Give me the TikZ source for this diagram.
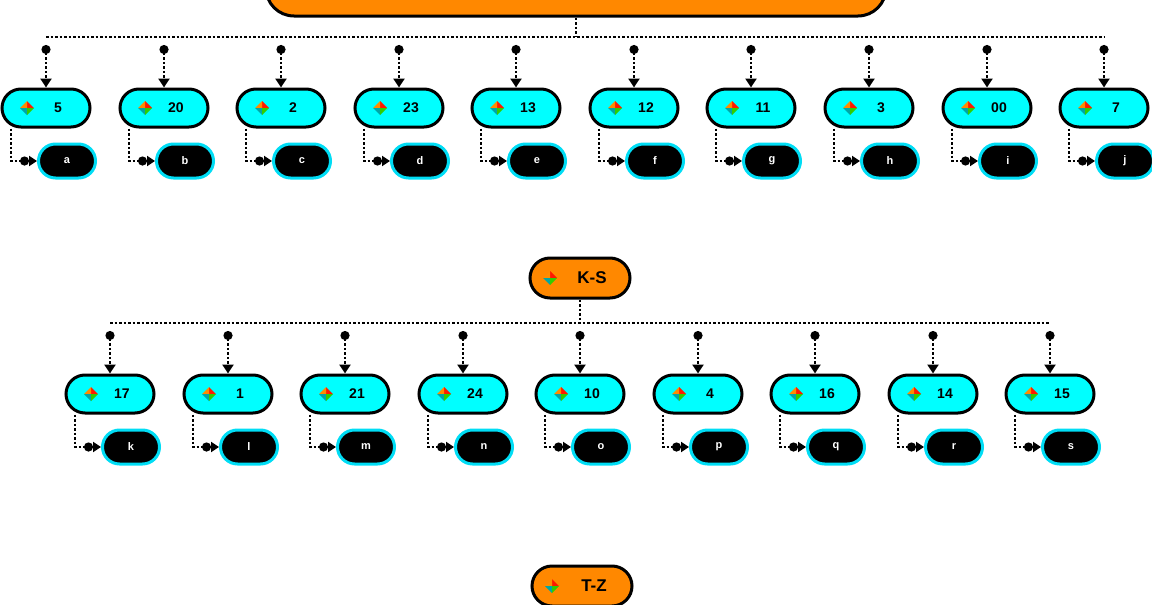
\documentclass[tikz,border=0pt]{standalone}
\usepackage{fontspec}
\setmainfont{Liberation Sans}
\usetikzlibrary{shapes.misc,arrows.meta}
\definecolor{orng}{HTML}{FF8800}
\definecolor{cyn}{HTML}{00FFFF}
\definecolor{cynb}{HTML}{00DDF5}
\tikzset{
 parentbox/.style={rounded rectangle,draw=black,line width=3pt,fill=orng,minimum height=40pt,font=\bfseries\fontsize{17}{17}\selectfont,inner sep=0pt},
 childbox/.style={rounded rectangle,draw=black,line width=3pt,fill=cyn,minimum width=88pt,minimum height=38pt,font=\bfseries\fontsize{14}{14}\selectfont,inner sep=0pt},
 leafbox/.style={rounded rectangle,draw=cynb,line width=3pt,fill=black,text=white,minimum width=57pt,minimum height=34pt,font=\bfseries\fontsize{11}{11}\selectfont,inner sep=0pt},
 bus/.style={line width=2.5pt,dotted},
 branch/.style={line width=2.5pt,dotted,{Circle[length=9pt,width=9pt]}-{Triangle[length=9pt,width=11pt]}},
 leafline/.style={line width=2.5pt,dotted,-{Circle[length=9pt,width=9pt]Triangle[length=8pt,width=10pt]}},
}
\newcommand{\puzz}[1]{%
 \begin{scope}[shift={#1}]
 \fill[red!80!orange] (0,-7)--(7,0)--(0,0)--cycle;
 \fill[orange!90!yellow] (0,-7)--(-7,0)--(0,0)--cycle;
 \fill[teal!70!cyan] (-7,0)--(0,7)--(0,0)--cycle;
 \fill[green!60!olive] (7,0)--(0,7)--(0,0)--cycle;
 \end{scope}}
\begin{document}
\begin{tikzpicture}[x=1pt,y=-1pt]
\useasboundingbox (0,0) rectangle (1152,605);
% top parent (cut off)
\node[parentbox,minimum width=620pt,minimum height=56pt] (p1) at (576,-12) {};
\draw[bus] (p1.south) -- (576,37) coordinate (b1);
\draw[bus] (46,37) coordinate (b1l) -- (1104,37) coordinate (b1r);
\foreach \x/\n/\l [count=\i] in {46/5/a,164/20/b,281/2/c,399/23/d,516/13/e,634/12/f,751/11/g,869/3/h,987/00/i,1104/7/j}{
 \node[childbox] (c\i) at (\x,108) {\hspace*{24pt}\n};
 \puzz{(\x-19,108)}
 \coordinate (t\i) at (\x,45);
 \draw[branch] (t\i) -- (c\i.north);
 \node[leafbox] (l\i) at (\x+21,161) {\l};
 \draw[leafline] ([xshift=-35pt]c\i.south) |- (l\i.west);
}
% K-S
\node[parentbox,minimum width=100pt] (p2) at (580,278) {\hspace*{24pt}K-S};
\puzz{(550,278)}
\draw[bus] (p2.south) -- (580,323);
\draw[bus] (110,323) -- (1050,323);
\foreach \x/\n/\l [count=\i] in {110/17/k,228/1/l,345/21/m,463/24/n,580/10/o,698/4/p,815/16/q,933/14/r,1050/15/s}{
 \node[childbox] (d\i) at (\x,394) {\hspace*{24pt}\n};
 \puzz{(\x-19,394)}
 \coordinate (u\i) at (\x,331);
 \draw[branch] (u\i) -- (d\i.north);
 \node[leafbox] (m\i) at (\x+21,447) {\l};
 \draw[leafline] ([xshift=-35pt]d\i.south) |- (m\i.west);
}
% T-Z
\node[parentbox,minimum width=100pt] (p3) at (582,586) {\hspace*{24pt}T-Z};
\puzz{(552,586)}
\end{tikzpicture}
\end{document}
